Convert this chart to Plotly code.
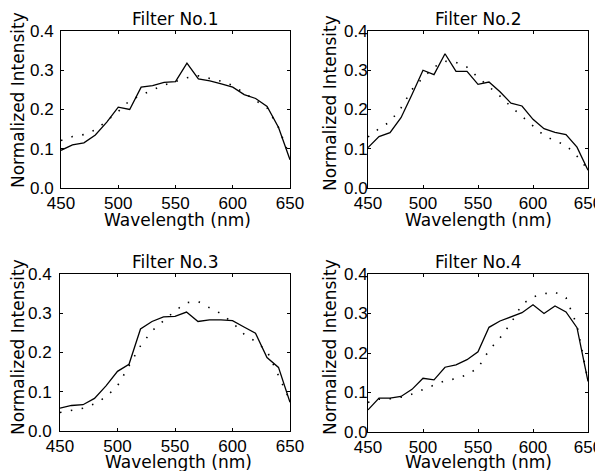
import plotly.graph_objects as go

wavelength = [450, 460, 470, 480, 490, 500, 510, 520, 530, 540, 550,
              560, 570, 580, 590, 600, 610, 620, 630, 640, 650]

f1_measured = [0.096, 0.110, 0.115, 0.135, 0.168, 0.206, 0.200, 0.257, 0.261, 0.269, 0.271,
               0.318, 0.278, 0.273, 0.265, 0.257, 0.238, 0.228, 0.208, 0.154, 0.072]
f1_model = [0.121, 0.131, 0.136, 0.148, 0.171, 0.195, 0.223, 0.237, 0.250, 0.262, 0.272,
            0.281, 0.286, 0.279, 0.272, 0.261, 0.242, 0.221, 0.204, 0.154, 0.079]

f2_measured = [0.103, 0.131, 0.141, 0.179, 0.238, 0.300, 0.289, 0.342, 0.297, 0.297, 0.264,
               0.270, 0.245, 0.216, 0.209, 0.175, 0.151, 0.142, 0.136, 0.104, 0.045]
f2_model = [0.130, 0.151, 0.169, 0.204, 0.251, 0.281, 0.308, 0.323, 0.320, 0.308, 0.282,
            0.259, 0.234, 0.207, 0.183, 0.159, 0.134, 0.120, 0.109, 0.081, 0.047]

f3_measured = [0.058, 0.065, 0.067, 0.083, 0.115, 0.152, 0.170, 0.260, 0.279, 0.291, 0.292,
               0.303, 0.279, 0.283, 0.283, 0.281, 0.265, 0.249, 0.187, 0.162, 0.073]
f3_model = [0.047, 0.052, 0.058, 0.069, 0.087, 0.115, 0.166, 0.217, 0.255, 0.281, 0.306,
            0.327, 0.330, 0.314, 0.299, 0.276, 0.247, 0.228, 0.204, 0.141, 0.077]

f4_measured = [0.056, 0.086, 0.086, 0.090, 0.108, 0.136, 0.132, 0.164, 0.170, 0.183, 0.203,
               0.265, 0.281, 0.292, 0.302, 0.322, 0.300, 0.319, 0.304, 0.264, 0.128]
f4_model = [0.075, 0.083, 0.084, 0.088, 0.096, 0.107, 0.119, 0.130, 0.135, 0.145, 0.162,
            0.207, 0.238, 0.276, 0.323, 0.342, 0.350, 0.354, 0.340, 0.270, 0.130]

titles = ["Filter No.1", "Filter No.2", "Filter No.3", "Filter No.4"]
x_title = "Wavelength (nm)"
y_title = "Normalized Intensity"
measured = [f1_measured, f2_measured, f3_measured, f4_measured]
model = [f1_model, f2_model, f3_model, f4_model]

# page has an 8px body margin; figure fills the rest of the 603x471 window
OFF = 8
W, H = 603 - OFF, 471 - OFF
# plot areas in page pixels (left, right, top, bottom)
boxes = [(61, 290, 31, 188), (368, 588, 31, 188), (60, 290, 274, 431), (368, 588, 274, 432)]
ylab_standoff = [3, -4, 4, -4]
# axis-title positions in page pixels (x centre, top of text box) / (x centre, y centre)
xtitle_pos = [(177, 208), (478, 208), (178, 450), (478, 450)]
ytitle_pos = [(18, 100), (330, 103), (18, 347), (330, 347)]

FONT = "Liberation Sans, Arial, sans-serif"
TFONT = "DejaVu Sans, Verdana, sans-serif"


def px(x):
    return (x - OFF) / W


def py(y):
    return 1 - (y - OFF) / H


fig = go.Figure()
layout = dict(
    width=W, height=H, margin=dict(l=0, r=0, t=0, b=0, autoexpand=False),
    paper_bgcolor="white", plot_bgcolor="white", showlegend=False,
    font=dict(family=FONT, color="black", size=17),
)
annotations = []
for i in range(4):
    n = "" if i == 0 else str(i + 1)
    l, r, t, b = boxes[i]
    xd = [px(l), px(r)]
    yd = [py(b), py(t)]
    fig.add_trace(go.Scatter(x=wavelength, y=model[i], mode="lines",
                             line=dict(color="black", width=1.6, dash="1.5px,9.5px"),
                             xaxis="x" + n, yaxis="y" + n))
    fig.add_trace(go.Scatter(x=wavelength, y=measured[i], mode="lines",
                             line=dict(color="black", width=1.3),
                             xaxis="x" + n, yaxis="y" + n))
    layout["xaxis" + n] = dict(
        domain=xd, anchor="y" + n, range=[450, 650], automargin=False,
        tickvals=[450, 500, 550, 600, 650], ticks="inside", ticklen=3, tickcolor="black",
        showline=True, linecolor="black", linewidth=1, mirror="ticks",
        showgrid=False, zeroline=False, tickfont=dict(size=17),
    )
    layout["yaxis" + n] = dict(
        domain=yd, anchor="x" + n, range=[0, 0.4], automargin=False,
        tickvals=[0, 0.1, 0.2, 0.3, 0.4], tickformat=".1f", ticks="inside", ticklen=3,
        tickcolor="black", showline=True, linecolor="black", linewidth=1, mirror="ticks",
        showgrid=False, zeroline=False, tickfont=dict(size=17),
        ticklabelstandoff=ylab_standoff[i],
    )
    annotations.append(dict(text=titles[i], x=(xd[0] + xd[1]) / 2, y=yd[1],
                            xref="paper", yref="paper", xanchor="center", yanchor="bottom",
                            yshift=0, showarrow=False, font=dict(family=TFONT, size=17)))
    annotations.append(dict(text=x_title, x=px(xtitle_pos[i][0]), y=py(xtitle_pos[i][1]),
                            xref="paper", yref="paper", xanchor="center", yanchor="top",
                            showarrow=False, font=dict(family=TFONT, size=17)))
    annotations.append(dict(text=y_title, x=px(ytitle_pos[i][0]), y=py(ytitle_pos[i][1]),
                            xref="paper", yref="paper", xanchor="center", yanchor="middle",
                            textangle=-90, showarrow=False, font=dict(family=TFONT, size=17)))
layout["annotations"] = annotations
fig.update_layout(**layout)
fig.write_html("out.html")
